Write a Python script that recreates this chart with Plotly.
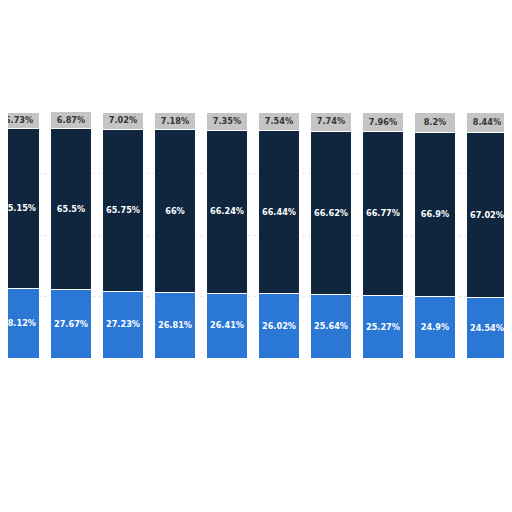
import plotly.graph_objects as go

categories = ["P1","P2","P3","P4","P5","P6","P7","P8","P9","P10","P11"]
bottom = [28.12, 27.67, 27.23, 26.81, 26.41, 26.02, 25.64, 25.27, 24.9, 24.54, 24.2]
middle = [65.15, 65.5, 65.75, 66, 66.24, 66.44, 66.62, 66.77, 66.9, 67.02, 67.1]
top = [6.73, 6.87, 7.02, 7.18, 7.35, 7.54, 7.74, 7.96, 8.2, 8.44, 8.7]

def lab(v):
    return [f"{x:g}%" for x in v]

xs = list(range(len(categories)))
fig = go.Figure()
common = dict(x=xs, textposition="inside", insidetextanchor="middle", textangle=0,
              marker_line=dict(color="white", width=1), width=0.77,
              customdata=categories)
fig.add_bar(y=bottom, marker_color="#2a77d6", text=lab(bottom),
            textfont=dict(color="white", size=9, family="DejaVu Sans", weight="bold"), **common)
fig.add_bar(y=middle, marker_color="#10263f", text=lab(middle),
            textfont=dict(color="white", size=9, family="DejaVu Sans", weight="bold"), **common)
fig.add_bar(y=top, marker_color="#c4c4c4", text=lab(top),
            textfont=dict(color="#333333", size=9, family="DejaVu Sans", weight="bold"), **common)

fig.update_layout(
    barmode="stack", showlegend=False,
    width=512, height=512, margin=dict(l=0, r=0, t=104, b=162, autoexpand=False),
    plot_bgcolor="white", paper_bgcolor="white", uniformtext=dict(minsize=7, mode="show"),
)
fig.update_xaxes(type="linear", range=[-0.2115, 9.635], showticklabels=False, showgrid=False,
                 zeroline=False, automargin=False)
fig.update_yaxes(range=[0, 100], showticklabels=False, gridcolor="#e6e6e6", griddash="dot",
                 dtick=25, zeroline=False, automargin=False)
fig.write_html("out.html")
